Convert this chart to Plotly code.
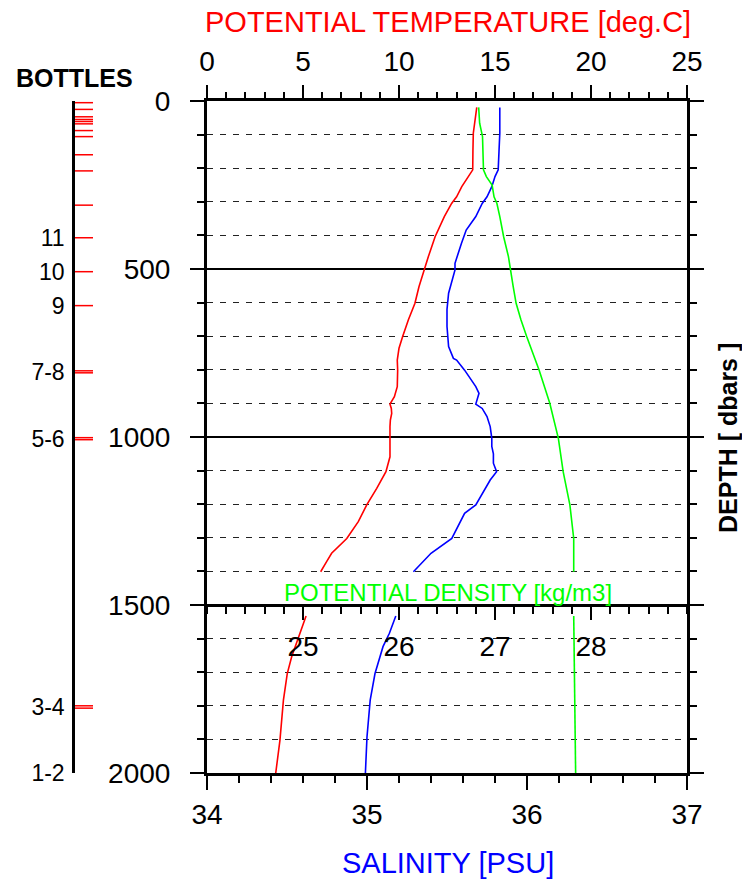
import plotly.graph_objects as go

W, H = 742, 879
FONT = "Liberation Sans, Arial, sans-serif"

# ---- CTD profile: potential temperature (deg C) ----
temp_depth_upper = [19, 40, 66, 96, 150, 205, 225, 255, 285, 305, 344, 404, 463, 503, 553,
                    602, 651, 701, 736, 771, 801, 850, 880, 902, 915, 930, 950, 969, 1009,
                    1059, 1103, 1128, 1153, 1202, 1252, 1302, 1346, 1371, 1401]
temp_upper = [14.05, 14.0, 13.92, 13.87, 13.85, 13.84, 13.61, 13.27, 13.0, 12.74, 12.36, 11.88,
              11.53, 11.32, 11.04, 10.83, 10.49, 10.19, 10.0, 9.91, 9.93, 9.91, 9.76, 9.53, 9.6,
              9.62, 9.55, 9.53, 9.53, 9.53, 9.32, 9.1, 8.84, 8.32, 7.88, 7.28, 6.49, 6.23, 5.92]
temp_depth_lower = [1533, 1584, 1654, 1704, 1783, 1902, 2000]
temp_lower = [5.16, 4.84, 4.41, 4.18, 3.98, 3.80, 3.58]

# ---- salinity (PSU) ----
sal_depth_upper = [19, 96, 150, 205, 225, 255, 285, 305, 344, 384, 424, 483, 503, 553, 572, 620,
                   671, 731, 766, 771, 801, 850, 870, 902, 915, 939, 969, 1004, 1028, 1050, 1078,
                   1103, 1128, 1202, 1227, 1302, 1346, 1401]
sal_upper = [35.83, 35.83, 35.825, 35.82, 35.80, 35.78, 35.75, 35.72, 35.68, 35.62, 35.59, 35.55,
             35.55, 35.52, 35.51, 35.50, 35.50, 35.51, 35.54, 35.56, 35.61, 35.68, 35.70, 35.68,
             35.72, 35.75, 35.77, 35.78, 35.78, 35.79, 35.79, 35.81, 35.77, 35.68, 35.61, 35.53,
             35.40, 35.29]
sal_depth_lower = [1533, 1584, 1624, 1704, 1783, 1892, 2000]
sal_lower = [35.18, 35.14, 35.10, 35.05, 35.02, 35.00, 34.99]

# ---- potential density (kg/m3, sigma) ----
dens_depth_upper = [19, 66, 106, 205, 225, 250, 285, 305, 344, 404, 463, 503, 553, 602, 651, 701,
                    771, 801, 899, 1004, 1103, 1202, 1302, 1401]
dens_upper = [26.83, 26.84, 26.87, 26.88, 26.91, 26.97, 26.99, 27.02, 27.05, 27.09, 27.14, 27.16,
              27.19, 27.22, 27.27, 27.33, 27.42, 27.46, 27.57, 27.66, 27.71, 27.78, 27.82, 27.82]
dens_depth_lower = [1533, 1750, 2000]
dens_lower = [27.82, 27.83, 27.84]

# ---- bottle trip depths (dbar) and their labels ----
bottle_depths = [5, 25, 47, 55, 61, 68, 88, 106, 160, 208, 310, 407, 508, 609,
                 803, 809, 1002, 1008, 1800, 1807]
bottle_label_depths = [407, 508, 609, 806, 1005, 1803, 2000]
bottle_labels = ["11", "10", "9", "7-8", "5-6", "3-4", "1-2"]

# axis settings
depth_range = [2000, 0]
temp_range = [0, 25]
sal_range = [34, 37]
dens_range = [24, 29]
dens_ticks = [25, 26, 27, 28]


def px_x(v):
    return v / W


def px_y(v):
    return 1 - v / H


def join(d1, v1, d2, v2):
    return list(d1) + [None] + list(d2), list(v1) + [None] + list(v2)


fig = go.Figure()

d, v = join(temp_depth_upper, temp_upper, temp_depth_lower, temp_lower)
fig.add_trace(go.Scatter(x=v, y=d, xaxis="x2", yaxis="y", mode="lines",
                         line=dict(color="#ff0000", width=1.6), connectgaps=False,
                         showlegend=False, hoverinfo="skip"))
d, v = join(sal_depth_upper, sal_upper, sal_depth_lower, sal_lower)
fig.add_trace(go.Scatter(x=v, y=d, xaxis="x", yaxis="y", mode="lines",
                         line=dict(color="#0000ff", width=1.6), connectgaps=False,
                         showlegend=False, hoverinfo="skip"))
d, v = join(dens_depth_upper, dens_upper, dens_depth_lower, dens_lower)
fig.add_trace(go.Scatter(x=v, y=d, xaxis="x3", yaxis="y", mode="lines",
                         line=dict(color="#00ff00", width=1.6), connectgaps=False,
                         showlegend=False, hoverinfo="skip"))

# bottle ticks: short horizontal red strokes on the bottle column
bx, by = [], []
for b in bottle_depths:
    bx += [0, 1, None]
    by += [b, b, None]
fig.add_trace(go.Scatter(x=bx, y=by, xaxis="x4", yaxis="y2", mode="lines",
                         line=dict(color="#ff0000", width=1.5),
                         showlegend=False, hoverinfo="skip"))

x_dom = [px_x(207), px_x(687)]
y_dom = [px_y(773), px_y(101)]
tickfont = dict(family=FONT, size=28, color="black")

fig.update_layout(
    template="none",
    width=W, height=H,
    margin=dict(l=0, r=0, t=0, b=0, pad=0),
    paper_bgcolor="white", plot_bgcolor="white",
    font=dict(family=FONT, color="black"),
    xaxis=dict(domain=x_dom, range=sal_range, anchor="y", side="bottom", automargin=False,
               showline=True, linecolor="black", linewidth=3,
               ticks="outside", ticklen=14, tickwidth=1.5, tickcolor="black",
               dtick=1, tick0=34, tickfont=tickfont, ticklabelstandoff=0,
               minor=dict(dtick=0.2, ticks="outside", ticklen=7, tickwidth=1.5,
                          tickcolor="black", showgrid=False),
               showgrid=False, zeroline=False),
    xaxis2=dict(overlaying="x", range=temp_range, anchor="y", side="top", automargin=False,
                showline=True, linecolor="black", linewidth=3,
                ticks="outside", ticklen=13, tickwidth=1.5, tickcolor="black",
                dtick=5, tick0=0, tickfont=tickfont, ticklabelstandoff=3,
                minor=dict(dtick=1, ticks="outside", ticklen=6, tickwidth=1.5,
                           tickcolor="black", showgrid=False),
                showgrid=False, zeroline=False),
    xaxis3=dict(overlaying="x", range=dens_range, anchor="free", automargin=False,
                position=px_y(605), side="bottom",
                showline=True, linecolor="black", linewidth=3,
                ticks="outside", ticklen=13, tickwidth=1.5, tickcolor="black",
                tickvals=dens_ticks, tickfont=tickfont, ticklabelstandoff=2,
                minor=dict(dtick=0.2, tick0=24, ticks="outside", ticklen=7, tickwidth=1.5,
                           tickcolor="black", showgrid=False),
                showgrid=False, zeroline=False),
    xaxis4=dict(domain=[px_x(75), px_x(93)], range=[0, 1], anchor="y2", visible=False,
                automargin=False),
    yaxis=dict(domain=y_dom, range=depth_range, anchor="x", side="left", automargin=False,
               showline=True, linecolor="black", linewidth=3, mirror="ticks",
               ticks="outside", ticklen=14, tickwidth=1.5, tickcolor="black",
               dtick=500, tick0=0, tickfont=tickfont, ticklabelstandoff=14,
               showgrid=True, gridcolor="black", gridwidth=2,
               minor=dict(dtick=100, ticks="outside", ticklen=7, tickwidth=1.5,
                          tickcolor="black", showgrid=True, gridcolor="#222222",
                          gridwidth=1, griddash="6px,7px"),
               zeroline=False),
    yaxis2=dict(domain=y_dom, range=depth_range, anchor="x4", side="left", automargin=False,
                showline=True, linecolor="black", linewidth=2.5,
                ticks="", tickvals=bottle_label_depths, ticktext=bottle_labels,
                tickfont=dict(family=FONT, size=23, color="black"),
                ticklabelstandoff=3, showgrid=False, zeroline=False),
)

ann = [
    dict(text="POTENTIAL TEMPERATURE [deg.C]", x=px_x(448), y=px_y(22),
         font=dict(size=29, color="#ff0000")),
    dict(text="SALINITY [PSU]", x=px_x(448), y=px_y(863),
         font=dict(size=29, color="#0000ff")),
    dict(text="POTENTIAL DENSITY [kg/m3]", x=px_x(448), y=px_y(592),
         font=dict(size=24, color="#00ff00")),
    dict(text="<b>DEPTH [ dbars ]</b>", x=px_x(728), y=px_y(438), textangle=-90,
         font=dict(size=25, color="black")),
    dict(text="<b>BOTTLES</b>", x=px_x(74), y=px_y(78),
         font=dict(size=25, color="black")),
]
for a in ann:
    a["font"]["family"] = FONT
    fig.add_annotation(xref="paper", yref="paper", showarrow=False,
                       xanchor="center", yanchor="middle", **a)

fig.write_html("out.html")
